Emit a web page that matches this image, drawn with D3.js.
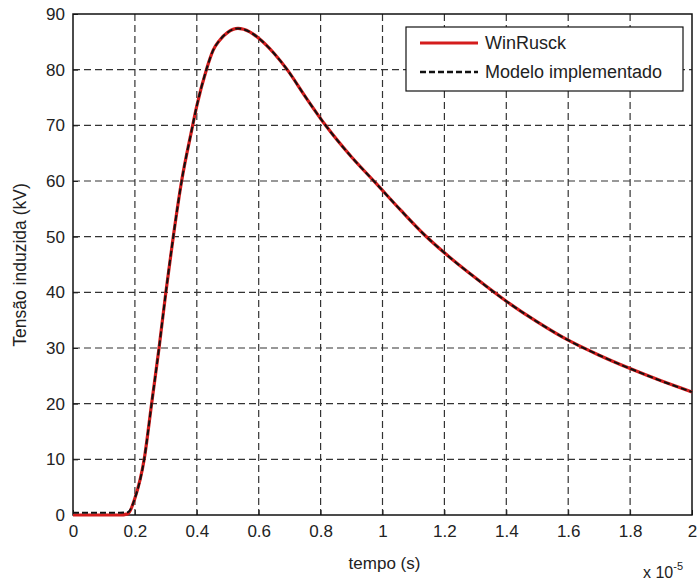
<!DOCTYPE html>
<html>
<head>
<meta charset="utf-8">
<script src="https://cdn.jsdelivr.net/npm/d3@7"></script>
<style>
  body { margin: 0; background: #fff; }
  svg { display: block; font-family: "Liberation Sans", Arial, sans-serif; }
</style>
</head>
<body>
<div id="chart"></div>
<script>
// time in units of 1e-5 s
var tempo = [0, 0.05, 0.1, 0.15, 0.177, 0.2, 0.23, 0.254, 0.278, 0.30, 0.324, 0.351, 0.383, 0.4, 0.431,
             0.453, 0.474, 0.5, 0.533, 0.571, 0.603, 0.65, 0.692, 0.75, 0.816, 0.9, 0.977, 1.058, 1.136,
             1.2, 1.3, 1.4, 1.5, 1.6, 1.7, 1.8, 1.9, 2.0];
var winRusck = [0, 0, 0, 0, 0.2, 3, 10, 20, 30, 40, 50, 60, 69, 73.5, 80,
                83.5, 85.3, 86.7, 87.4, 86.8, 85.5, 82.9, 80, 75.2, 70, 64.3, 59.7, 54.8, 50.3,
                47.1, 42.6, 38.4, 34.7, 31.4, 28.7, 26.3, 24.1, 22.1];
var modelo = [0.4, 0.4, 0.4, 0.4, 0.5, 3, 10, 20, 30, 40, 50, 60, 69, 73.5, 80,
              83.5, 85.3, 86.7, 87.4, 86.8, 85.5, 82.9, 80, 75.2, 70, 64.3, 59.7, 54.8, 50.3,
              47.1, 42.6, 38.4, 34.7, 31.4, 28.7, 26.3, 24.1, 22.1];
var xTicks = [0, 0.2, 0.4, 0.6, 0.8, 1, 1.2, 1.4, 1.6, 1.8, 2];
var yTicks = [0, 10, 20, 30, 40, 50, 60, 70, 80, 90];
var seriesNames = ["WinRusck", "Modelo implementado"];

var W = 698, H = 581;
var margin = { top: 14, right: 6, bottom: 66, left: 73 };
var width = W - margin.left - margin.right;
var height = H - margin.top - margin.bottom;

var svg = d3.select('#chart').append('svg')
    .attr('width', W)
    .attr('height', H);

var g = svg.append('g')
    .attr('transform', `translate(${margin.left}, ${margin.top})`);

var x = d3.scaleLinear().domain([0, 2]).range([0, width]);
var y = d3.scaleLinear().domain([0, 90]).range([height, 0]);

// grid
g.append('g').selectAll('line')
    .data(xTicks.slice(1, -1))
    .enter().append('line')
        .attr('x1', d => x(d)).attr('x2', d => x(d))
        .attr('y1', 0).attr('y2', height)
        .attr('stroke', '#333')
        .attr('stroke-width', 1.2)
        .attr('stroke-dasharray', '7,4');
g.append('g').selectAll('line')
    .data(yTicks.slice(1, -1))
    .enter().append('line')
        .attr('x1', 0).attr('x2', width)
        .attr('y1', d => y(d)).attr('y2', d => y(d))
        .attr('stroke', '#333')
        .attr('stroke-width', 1.2)
        .attr('stroke-dasharray', '7,4');

// axes
var xAxis = d3.axisBottom(x).tickValues(xTicks).tickSize(-5).tickPadding(10)
    .tickFormat(d3.format('~g'));
var yAxis = d3.axisLeft(y).tickValues(yTicks).tickSize(-5).tickPadding(8);

var gx = g.append('g').attr('transform', `translate(0, ${height})`).call(xAxis);
var gy = g.append('g').call(yAxis);
[gx, gy].forEach(function(a) {
    a.select('.domain').remove();
    a.selectAll('line').attr('stroke', '#222');
    a.selectAll('text').attr('font-size', 17).attr('fill', '#222')
        .style('font-family', '"Liberation Sans", Arial, sans-serif');
});

// frame
g.append('rect')
    .attr('width', width).attr('height', height)
    .attr('fill', 'none').attr('stroke', '#111').attr('stroke-width', 1.5);

// curves
var line = d3.line()
    .x((d, i) => x(tempo[i]))
    .y(d => y(d))
    .curve(d3.curveMonotoneX);

g.append('path')
    .attr('d', line(winRusck))
    .attr('fill', 'none')
    .attr('stroke', '#d41c1c')
    .attr('stroke-width', 3.2);
g.append('path')
    .attr('d', line(modelo))
    .attr('fill', 'none')
    .attr('stroke', '#111')
    .attr('stroke-width', 2)
    .attr('stroke-dasharray', '6,3');

// legend
var lg = g.append('g').attr('transform', `translate(${406 - margin.left}, ${27 - margin.top})`);
lg.append('rect')
    .attr('width', 277).attr('height', 64)
    .attr('fill', '#fff').attr('stroke', '#111').attr('stroke-width', 1.2);
var rows = lg.selectAll('.row').data(seriesNames).enter().append('g')
    .attr('transform', (d, i) => `translate(0, ${16 + i * 29})`);
rows.append('line')
    .attr('x1', 14).attr('x2', 72)
    .attr('stroke', (d, i) => i === 0 ? '#d41c1c' : '#111')
    .attr('stroke-width', (d, i) => i === 0 ? 3.2 : 2.4)
    .attr('stroke-dasharray', (d, i) => i === 0 ? null : '6,3');
rows.append('text')
    .attr('x', 79).attr('y', 6)
    .attr('font-size', 18)
    .attr('fill', '#222')
    .text(d => d);

// labels
svg.append('text')
    .attr('x', margin.left + width / 2 + 2)
    .attr('y', 569)
    .attr('text-anchor', 'middle')
    .attr('font-size', 17)
    .attr('fill', '#222')
    .text('tempo (s)');

svg.append('text')
    .attr('transform', 'translate(26, 265) rotate(-90)')
    .attr('text-anchor', 'middle')
    .attr('font-size', 17.5)
    .attr('fill', '#222')
    .text('Tensão induzida (kV)');

var ex = svg.append('text')
    .attr('x', 643).attr('y', 578)
    .attr('font-size', 16)
    .attr('fill', '#222');
ex.append('tspan').text('x 10');
ex.append('tspan').attr('dy', -8).attr('font-size', 11).text('-5');
</script>
</body>
</html>
